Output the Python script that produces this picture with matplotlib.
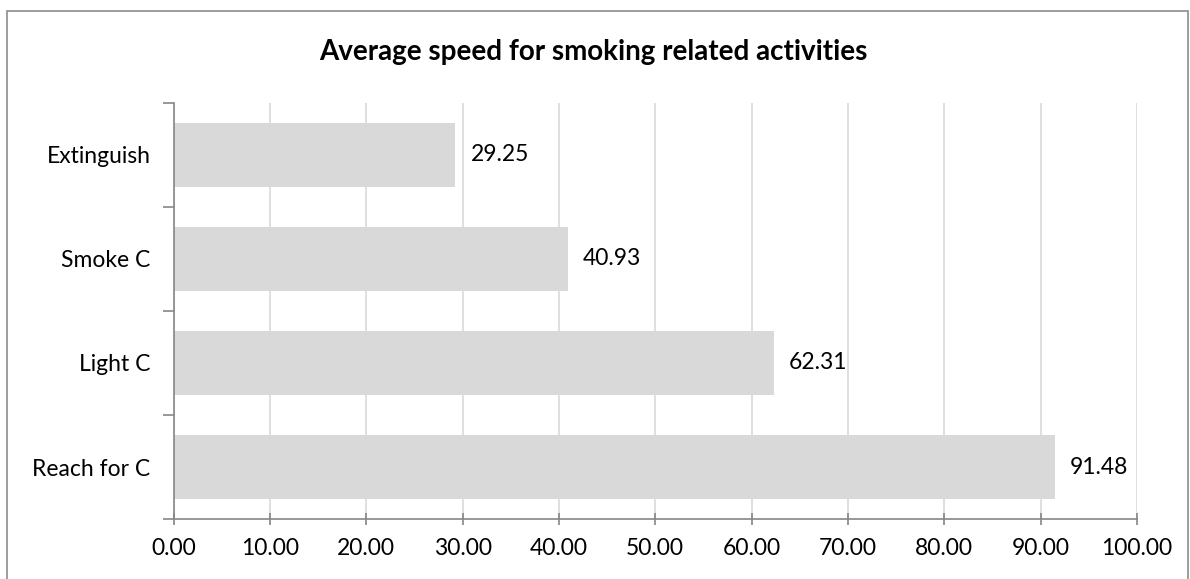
import matplotlib.pyplot as plt
import matplotlib.patches as mpatches
import numpy as np

plt.rcParams['font.family'] = ['Lato', 'DejaVu Sans']

categories = ['Reach for C', 'Light C', 'Smoke C', 'Extinguish']
speeds = [91.48, 62.31, 40.93, 29.25]
xticks = np.arange(0, 101, 10)

W, H = 1190, 579
fig = plt.figure(figsize=(W / 100, H / 100), dpi=100)
ax = fig.add_axes([173.5 / W, 1 - 519 / H, (1137 - 173.5) / W, (519 - 103) / H])

y = np.arange(len(categories))
ax.barh(y, speeds, height=0.62, color='#d9d9d9', zorder=2)
for yi, v in zip(y, speeds):
    ax.annotate(f'{v:.2f}', (v, yi), xytext=(11, 0), textcoords='offset points',
                va='center', ha='left', fontsize=16.5, color='black')

ax.set_xlim(0, 100)
ax.set_ylim(-0.5, len(categories) - 0.5)
ax.set_xticks(xticks)
ax.set_xticklabels([f'{t:.2f}' for t in xticks], fontsize=16.5)
ax.set_yticks(y)
ax.set_yticklabels(categories, fontsize=16.5)
ax.tick_params(axis='y', length=0, pad=16.5)
ax.set_yticks(np.arange(-0.5, len(categories), 1), minor=True)
ax.tick_params(axis='y', which='minor', length=8, color='#868686', width=1.2)
ax.tick_params(axis='x', length=8, color='#868686', width=1.2, pad=10, direction='inout')
ax.grid(axis='x', color='#d9d9d9', linewidth=1.2, zorder=0)
for s in ['top', 'right']:
    ax.spines[s].set_visible(False)
for s in ['left', 'bottom']:
    ax.spines[s].set_color('#868686')
    ax.spines[s].set_linewidth(1.2)

fig.text(593 / W, 1 - 52 / H, 'Average speed for smoking related activities',
         ha='center', va='center', fontsize=20, fontweight='bold')

# chart-area border
fig.patches.append(mpatches.Rectangle((7 / W, -0.05), (1188 - 7) / W, 1 - 11 / H + 0.05,
                                      transform=fig.transFigure, fill=False,
                                      edgecolor='#8c8c8c', linewidth=1.2))

fig.savefig('out.png', dpi=100)
